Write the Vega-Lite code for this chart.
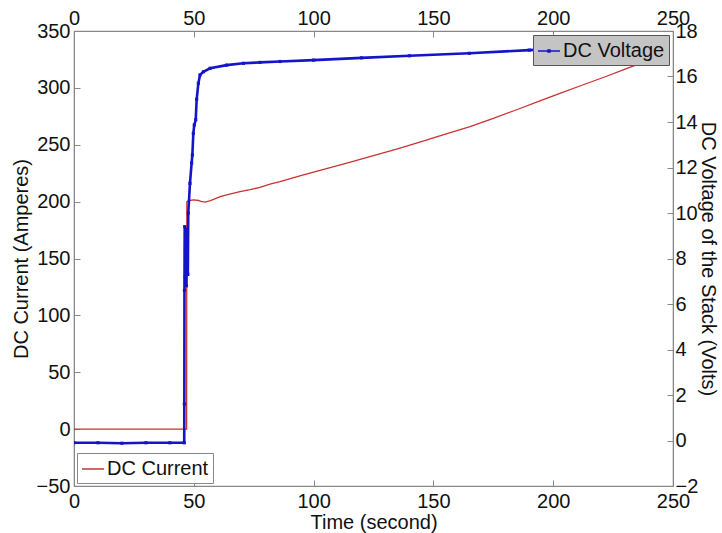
{
  "$schema": "https://vega.github.io/schema/vega-lite/v6.json",
  "autosize": {"type": "none"},
  "width": 599,
  "height": 455,
  "padding": {"left": 74, "top": 31, "right": 49, "bottom": 47},
  "background": "white",
  "config": {
    "font": "Liberation Sans",
    "view": {"stroke": "#888888", "strokeWidth": 1.2},
    "axis": {
      "labelFont": "Liberation Sans",
      "titleFont": "Liberation Sans",
      "labelFontSize": 20,
      "titleFontSize": 20,
      "labelColor": "#111111",
      "titleColor": "#111111",
      "titleFontWeight": "normal",
      "domainColor": "#888888",
      "tickColor": "#888888",
      "grid": false,
      "labelFlush": false,
      "labelOverlap": false,
      "tickSize": -6
    },
    "legend": {
      "labelFont": "Liberation Sans",
      "labelFontSize": 20,
      "labelColor": "#111111"
    }
  },
  "datasets": {
    "current": [
      {"t": 0, "a": 0}, {"t": 47.0, "a": 0}, {"t": 47.1, "a": 200}, {"t": 48, "a": 201}, {"t": 50, "a": 201.5},
      {"t": 52, "a": 201}, {"t": 53, "a": 200.3}, {"t": 54.7, "a": 199.5}, {"t": 57, "a": 200.8}, {"t": 61, "a": 204.3},
      {"t": 65, "a": 206.5}, {"t": 69.3, "a": 208.7}, {"t": 73.5, "a": 210.5}, {"t": 77.6, "a": 212.5}, {"t": 81.8, "a": 215.3},
      {"t": 86, "a": 217.5}, {"t": 95, "a": 223}, {"t": 105, "a": 228.8}, {"t": 115, "a": 234.5}, {"t": 123.5, "a": 239.5},
      {"t": 135, "a": 246.4}, {"t": 145, "a": 252.8}, {"t": 155, "a": 259.3}, {"t": 165.3, "a": 266}, {"t": 175, "a": 273.2},
      {"t": 185, "a": 281}, {"t": 195, "a": 289}, {"t": 202.8, "a": 295.2}, {"t": 212, "a": 302.3}, {"t": 222, "a": 310},
      {"t": 230, "a": 316.5}, {"t": 238.3, "a": 323}, {"t": 245, "a": 328}
    ],
    "voltage": [
      {"t": 0, "v": -0.1}, {"t": 10, "v": -0.1}, {"t": 20, "v": -0.12}, {"t": 30, "v": -0.1}, {"t": 40, "v": -0.1},
      {"t": 46.0, "v": -0.1}, {"t": 46.05, "v": 1.6}, {"t": 46.1, "v": 6.6}, {"t": 46.2, "v": 9.4}, {"t": 46.4, "v": 7.2},
      {"t": 46.6, "v": 9.3}, {"t": 46.9, "v": 6.8}, {"t": 47.2, "v": 9.2}, {"t": 47.5, "v": 7.3}, {"t": 47.7, "v": 10.0},
      {"t": 48.4, "v": 11.3}, {"t": 49.1, "v": 12.2}, {"t": 49.4, "v": 12.55}, {"t": 49.8, "v": 13.5}, {"t": 50.2, "v": 13.87},
      {"t": 50.8, "v": 14.1}, {"t": 51.2, "v": 15.0}, {"t": 51.9, "v": 15.7}, {"t": 52.6, "v": 16.07}, {"t": 54.0, "v": 16.21},
      {"t": 56.8, "v": 16.36}, {"t": 63.7, "v": 16.5}, {"t": 70.7, "v": 16.58}, {"t": 77.6, "v": 16.62}, {"t": 86, "v": 16.66},
      {"t": 100, "v": 16.72}, {"t": 120, "v": 16.82}, {"t": 140, "v": 16.91}, {"t": 165, "v": 17.02}, {"t": 190, "v": 17.16},
      {"t": 215, "v": 17.28}, {"t": 240, "v": 17.4}
    ]
  },
  "layer": [
    {
      "data": {"name": "current"},
      "mark": {"type": "line", "strokeWidth": 1.3, "clip": true},
      "encoding": {
        "x": {"field": "t", "type": "quantitative", "scale": {"domain": [0, 250], "nice": false},
              "axis": {"orient": "bottom", "title": "Time (second)", "values": [0, 50, 100, 150, 200, 250], "labelPadding": 11, "titlePadding": 1}},
        "y": {"field": "a", "type": "quantitative", "scale": {"domain": [-50, 350], "nice": false, "zero": false},
              "axis": {"orient": "left", "title": "DC Current (Amperes)", "values": [-50, 0, 50, 100, 150, 200, 250, 300, 350], "labelPadding": 10, "titlePadding": 5}},
        "color": {"datum": "DC Current", "type": "nominal",
                  "scale": {"range": ["#c83232"]},
                  "legend": {"title": null, "orient": "bottom-left", "offset": 3, "fillColor": "white", "strokeColor": "#888888",
                             "padding": 4, "symbolType": "stroke", "symbolSize": 480, "symbolStrokeWidth": 1.5, "labelOffset": 2}}
      }
    },
    {
      "data": {"name": "voltage"},
      "mark": {"type": "line", "strokeWidth": 2.6, "clip": true, "point": {"filled": true, "size": 10, "shape": "square"}},
      "encoding": {
        "x": {"field": "t", "type": "quantitative", "scale": {"domain": [0, 250], "nice": false},
              "axis": {"orient": "top", "title": null, "values": [0, 50, 100, 150, 200, 250], "labelPadding": 9}},
        "y": {"field": "v", "type": "quantitative", "scale": {"domain": [-2, 18], "nice": false, "zero": false},
              "axis": {"orient": "right", "title": "DC Voltage of the Stack (Volts)", "values": [-2, 0, 2, 4, 6, 8, 10, 12, 14, 16, 18], "labelPadding": 8, "titlePadding": 0}},
        "color": {"datum": "DC Voltage", "type": "nominal",
                  "scale": {"range": ["#1414c8"]},
                  "legend": {"title": null, "orient": "top-right", "offset": 4, "fillColor": "#c4c4c4", "strokeColor": "#555555",
                             "padding": 4, "symbolType": "M-1,0L1,0M-0.1,-0.1L0.1,-0.1L0.1,0.1L-0.1,0.1Z", "symbolSize": 480, "symbolStrokeWidth": 1.3, "labelOffset": 2}}
      }
    }
  ],
  "resolve": {
    "scale": {"y": "independent", "color": "independent"},
    "axis": {"x": "independent", "y": "independent"},
    "legend": {"color": "independent"}
  }
}
